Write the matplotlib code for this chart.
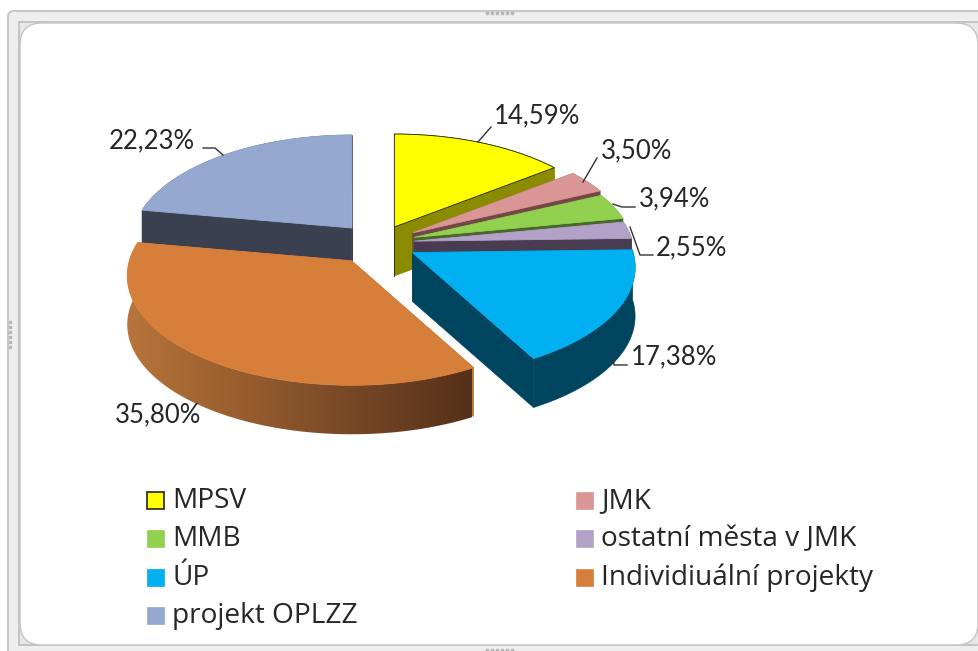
import numpy as np
import matplotlib
matplotlib.use('Agg')
import matplotlib.pyplot as plt
from matplotlib.patches import Polygon, FancyBboxPatch, Rectangle
from matplotlib.colors import LinearSegmentedColormap

# chart data
categories = ['MPSV', 'JMK', 'MMB', 'ostatní města v JMK', 'ÚP', 'Individiuální projekty', 'projekt OPLZZ']
values = [14.59, 3.50, 3.94, 2.55, 17.38, 35.80, 22.23]

# styles
top_colors = ['#ffff00', '#d99694', '#92d050', '#b3a2c7', '#00b0f0', '#d67f3b', '#95a9d0']
wall_colors = ['#8b8b00', '#744645', '#47662b', '#483c50', '#00455f', '#b8743a', '#3a4050']
explode = [0.19, 0.20, 0.18, 0.17, 0.17, 0.185, 0.205]
size = [1, 1, 1, 1, 1.012, 1.02, 1]
draw_order = [6, 0, 1, 2, 3, 4, 5]

# pie geometry in pixels
cx, cy = 378, 243
rx, ry = 218, 105.5
persp = 0.135
depth = 49


def project(t):
    u = np.sin(t)
    v = -np.cos(t)
    w = 1 / (1 - persp * v)
    return rx * u * w, ry * v * w


fig = plt.figure(figsize=(9.79, 6.51), dpi=100)
ax = fig.add_axes([0, 0, 1, 1])
plt.rcParams['font.family'] = ['Lato', 'DejaVu Sans']

# selection frame around the chart
ax.add_patch(FancyBboxPatch((8, 11), 1000, 700, boxstyle='round,pad=0,rounding_size=6',
                            fc='#eeeeee', ec='#c8c8c8', lw=1.5))
ax.add_patch(Rectangle((19, 22), 1000, 623, fc='#e8e8e8', ec='#bdbdbd', lw=1.2))
ax.add_patch(FancyBboxPatch((20, 23), 958, 622, boxstyle='round,pad=0,rounding_size=22',
                            fc='white', ec='#c4c4c4', lw=1))
ax.plot([487, 492, 497, 502, 507, 512], [13] * 6, ls='', marker='s', ms=1.6, color='#b5b5b5')
ax.plot([487, 492, 497, 502, 507, 512], [650] * 6, ls='', marker='s', ms=1.6, color='#b5b5b5')
ax.plot([10] * 6, [322, 327, 332, 337, 342, 347], ls='', marker='s', ms=1.6, color='#b5b5b5')

# slice angles from the values
total = sum(values)
edges = np.cumsum([0] + values) / total * 2 * np.pi
orange_grad = LinearSegmentedColormap.from_list('rim', ['#b8743a', '#55301a'])

for i in draw_order:
    t0, t1 = edges[i], edges[i + 1]
    ox, oy = project((t0 + t1) / 2)
    tip = np.array([cx + explode[i] * ox, cy + explode[i] * oy])
    ts = np.linspace(t0, t1, max(int((t1 - t0) * 90), 4))
    px, py = project(ts)
    arc = np.column_stack([tip[0] + size[i] * px, tip[1] + size[i] * py])
    face = np.vstack([[tip], arc])
    drop = np.array([0, depth])

    col = wall_colors[i]
    # the two cut faces
    for end in (arc[0], arc[-1]):
        ax.add_patch(Polygon([tip, end, end + drop, tip + drop], closed=True, fc=col, ec=col, lw=0.4))
    # outer rim, gradient on the orange slice
    rim = np.vstack([arc, (arc + drop)[::-1]])
    if i == 5:
        rim_patch = Polygon(rim, closed=True, fc='none', ec='none')
        ax.add_patch(rim_patch)
        im = ax.imshow(np.linspace(0, 1, 256).reshape(1, -1), cmap=orange_grad, aspect='auto',
                       extent=[127, 472, 440, 240], zorder=1)
        im.set_clip_path(rim_patch)
    else:
        ax.add_patch(Polygon(rim, closed=True, fc=col, ec=col, lw=0.4))

    if i == 0:
        ax.plot([tip[0], tip[0]], [tip[1], tip[1] + depth], color='#333300', lw=0.7)
    ax.add_patch(Polygon(face, closed=True, fc=top_colors[i],
                         ec='#222200' if i == 0 else top_colors[i], lw=0.6))

# data labels with leader lines
label_pos = [(537, 116), (637, 151), (675, 199), (691, 248), (674, 357), (158, 415), (152, 141)]
leaders = [
    [(478, 142), (491, 127)],
    [(583, 182), (597, 158)],
    [(613, 204), (622, 207), (635, 207)],
    [(630, 227), (640, 255), (653, 255)],
    [(613, 355), (614, 365), (627, 365)],
    [],
    [(223, 155), (215, 148), (203, 148)],
]
for v, pos, line in zip(values, label_pos, leaders):
    ax.text(pos[0], pos[1], f'{v:.2f}%'.replace('.', ','), ha='center', va='center',
            fontsize=18.5, color='#262626')
    if line:
        ax.plot(*zip(*line), color='#333333', lw=1)

# legend, two columns filled row by row
rows = [500, 538, 577, 615]
for k, name in enumerate(categories):
    x = 147 if k % 2 == 0 else 576
    y = rows[k // 2]
    ax.add_patch(Rectangle((x, y - 8), 17, 17, fc=top_colors[k],
                           ec='#222222' if k == 0 else top_colors[k], lw=1.2 if k == 0 else 0.5))
    ax.text(x + 25.5, y + 1, name, ha='left', va='center', fontsize=20.2, color='#262626',
            family=['Open Sans', 'DejaVu Sans'])

ax.set_xlim(0, 979)
ax.set_ylim(651, 0)
ax.axis('off')
fig.savefig('out.png', dpi=100)
